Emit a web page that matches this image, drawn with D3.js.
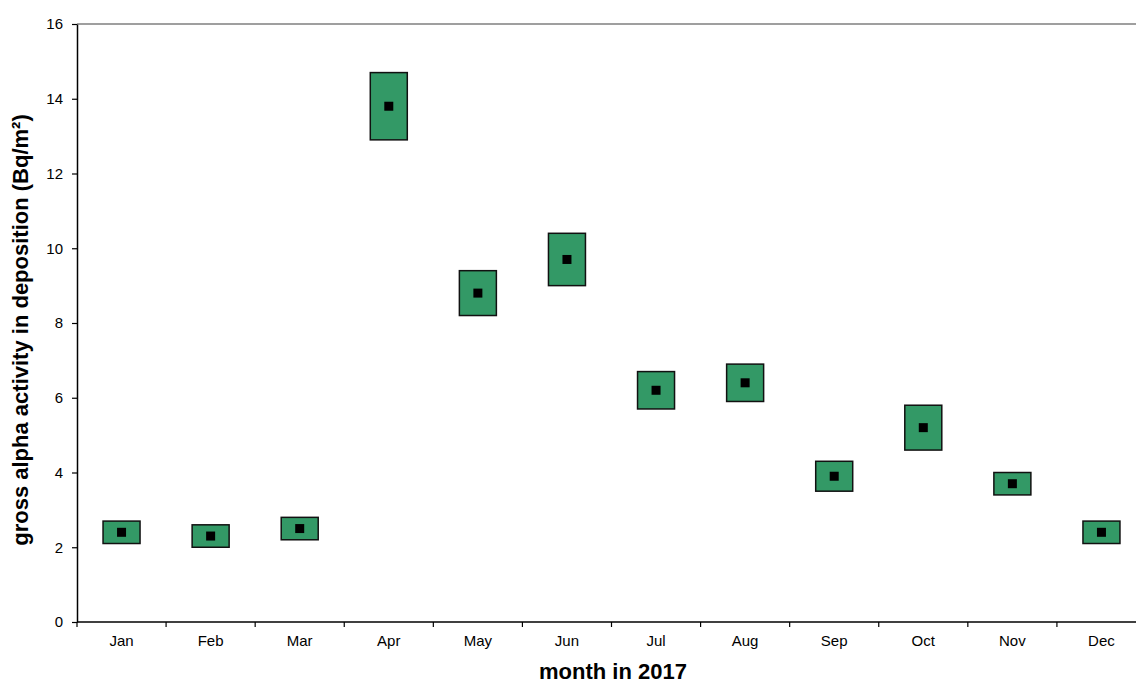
<!DOCTYPE html>
<html>
<head>
<meta charset="utf-8">
<script src="https://cdn.jsdelivr.net/npm/d3@7"></script>
<style>
  html, body { margin: 0; padding: 0; background: #fff; }
  svg { display: block; font-family: Arial, "Liberation Sans", sans-serif; }
</style>
</head>
<body>
<svg id="chart" width="1136" height="684"></svg>
<script>
// Monthly gross alpha activity in deposition, 2017
const months = ["Jan", "Feb", "Mar", "Apr", "May", "Jun", "Jul", "Aug", "Sep", "Oct", "Nov", "Dec"];
const meanValues = [2.4, 2.3, 2.5, 13.8, 8.8, 9.7, 6.2, 6.4, 3.9, 5.2, 3.7, 2.4];
const lowerValues = [2.1, 2.0, 2.2, 12.9, 8.2, 9.0, 5.7, 5.9, 3.5, 4.6, 3.4, 2.1];
const upperValues = [2.7, 2.6, 2.8, 14.7, 9.4, 10.4, 6.7, 6.9, 4.3, 5.8, 4.0, 2.7];
const yTicks = [0, 2, 4, 6, 8, 10, 12, 14, 16];

const rows = months.map((m, i) => ({ month: m, mean: meanValues[i], lo: lowerValues[i], hi: upperValues[i] }));

const svg = d3.select("#chart");
const plotLeft = 77, plotRight = 1146, plotTop = 24, plotBottom = 622;

const x = d3.scaleBand().domain(months).range([plotLeft, plotRight]).paddingInner(0).paddingOuter(0);
const y = d3.scaleLinear().domain([0, 16]).range([plotBottom, plotTop]);

// top frame line
svg.append("line")
  .attr("x1", plotLeft).attr("x2", 1136)
  .attr("y1", y(16)).attr("y2", y(16))
  .attr("stroke", "#7f7f7f").attr("stroke-width", 1.5);

// y axis
const yAxis = svg.append("g")
  .attr("transform", `translate(${plotLeft},0)`)
  .call(d3.axisLeft(y).tickValues(yTicks).tickSize(5).tickPadding(9).tickSizeOuter(0));
yAxis.select(".domain").attr("stroke", "#000").attr("stroke-width", 1.5);
yAxis.selectAll(".tick line").attr("stroke", "#000").attr("stroke-width", 1.2);
yAxis.selectAll(".tick text").attr("font-size", 15).attr("fill", "#000").attr("font-family", "Arial, 'Liberation Sans', sans-serif");

// x axis with ticks at band boundaries
const xAxis = svg.append("g").attr("transform", `translate(0,${plotBottom})`);
xAxis.append("line")
  .attr("x1", plotLeft).attr("x2", 1136).attr("y1", 0).attr("y2", 0)
  .attr("stroke", "#000").attr("stroke-width", 1.5);
xAxis.selectAll("line.tick")
  .data(months)
  .join("line")
  .attr("class", "tick")
  .attr("x1", d => x(d)).attr("x2", d => x(d))
  .attr("y1", 0).attr("y2", 5)
  .attr("stroke", "#000").attr("stroke-width", 1.2);
xAxis.selectAll("text")
  .data(months)
  .join("text")
  .attr("x", d => x(d) + x.bandwidth() / 2)
  .attr("y", 24)
  .attr("text-anchor", "middle")
  .attr("font-size", 15)
  .attr("fill", "#000")
  .text(d => d);

// range boxes
const boxW = 37;
svg.append("g").selectAll("rect")
  .data(rows)
  .join("rect")
  .attr("x", d => x(d.month) + x.bandwidth() / 2 - boxW / 2)
  .attr("y", d => y(d.hi))
  .attr("width", boxW)
  .attr("height", d => y(d.lo) - y(d.hi))
  .attr("fill", "#339966")
  .attr("stroke", "#111")
  .attr("stroke-width", 1.5);

// mean markers
const mk = 9;
svg.append("g").selectAll("rect")
  .data(rows)
  .join("rect")
  .attr("x", d => x(d.month) + x.bandwidth() / 2 - mk / 2)
  .attr("y", d => y(d.mean) - mk / 2)
  .attr("width", mk)
  .attr("height", mk)
  .attr("fill", "#000");

// axis titles
svg.append("text")
  .attr("x", 613)
  .attr("y", 679)
  .attr("text-anchor", "middle")
  .attr("font-size", 22)
  .attr("font-weight", "bold")
  .attr("fill", "#000")
  .text("month in 2017");

svg.append("text")
  .attr("transform", "translate(28,330) rotate(-90)")
  .attr("text-anchor", "middle")
  .attr("font-size", 22)
  .attr("font-weight", "bold")
  .attr("fill", "#000")
  .text("gross alpha activity in deposition (Bq/m²)");
</script>
</body>
</html>
